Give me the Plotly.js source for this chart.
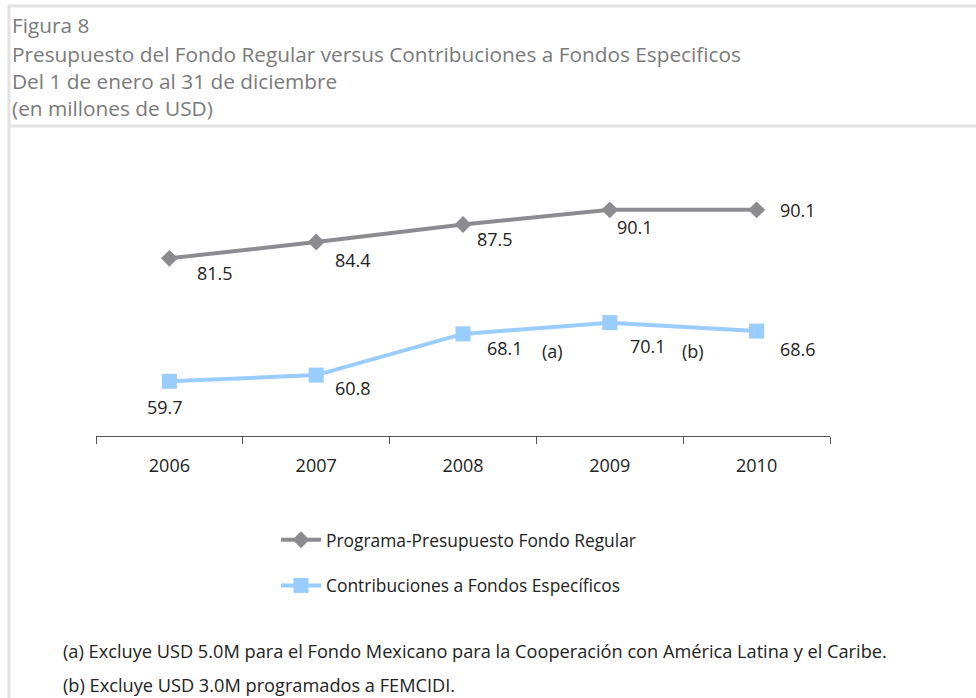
<!DOCTYPE html>
<html>
<head>
<meta charset="utf-8">
<script src="https://cdn.plot.ly/plotly-3.0.1.min.js"></script>
<style>
  body { margin: 0; background: #fff; }
  #chart { width: 976px; height: 698px; }
</style>
</head>
<body>
<div id="chart"></div>
<script>
var years = ['2006', '2007', '2008', '2009', '2010'];
var fondoRegular = [81.5, 84.4, 87.5, 90.1, 90.1];
var fondosEspecificos = [59.7, 60.8, 68.1, 70.1, 68.6];
var seriesNames = ['Programa-Presupuesto Fondo Regular', 'Contribuciones a Fondos Específicos'];
var notes = [null, null, '(a)', '(b)', null];

var titleLines = [
  'Figura 8',
  'Presupuesto del Fondo Regular versus Contribuciones a Fondos Especificos',
  'Del 1 de enero al 31 de diciembre',
  '(en millones de USD)'
];
var footnotes = [
  '(a) Excluye USD 5.0M para el Fondo Mexicano para la Cooperación con América Latina y el Caribe.',
  '(b) Excluye USD 3.0M programados a FEMCIDI.'
];

var FONT = '"Open Sans", sans-serif';

// plot area in pixels
var L = 96, R = 830, T = 154, B = 436;
function px(x) { return (x - L) / (R - L); }
function py(y) { return (B - y) / (B - T); }

// label offsets (pixels) for each point
var grayShift = [[26, -15], [17, -18], [12, -14], [5, -17], [21, 0]];
var blueShift = [[-24, -26], [17, -13], [22, -14], [18, -23], [21, -18]];
var noteShift = [null, null, [77, -17], [70, -28], null];

var data = [{
  x: years,
  y: fondoRegular,
  name: seriesNames[0],
  type: 'scatter',
  mode: 'lines+markers',
  line: {color: '#8c8c90', width: 4},
  marker: {symbol: 'diamond', size: 13, color: '#8c8c90'},
  legendgroup: 'a'
}, {
  x: years,
  y: fondosEspecificos,
  name: seriesNames[1],
  type: 'scatter',
  mode: 'lines+markers',
  line: {color: '#99ccff', width: 4},
  marker: {symbol: 'square', size: 15, color: '#99ccff'},
  legendgroup: 'b'
}];

var annotations = [];
years.forEach(function(yr, i){
  annotations.push({
    x: i, y: fondoRegular[i], xref: 'x', yref: 'y',
    text: fondoRegular[i].toFixed(1), showarrow: false,
    xanchor: 'left', yanchor: 'middle',
    xshift: grayShift[i][0], yshift: grayShift[i][1],
    font: {family: FONT, size: 18, color: '#222'}
  });
  annotations.push({
    x: i, y: fondosEspecificos[i], xref: 'x', yref: 'y',
    text: fondosEspecificos[i].toFixed(1), showarrow: false,
    xanchor: 'left', yanchor: 'middle',
    xshift: blueShift[i][0], yshift: blueShift[i][1],
    font: {family: FONT, size: 18, color: '#222'}
  });
  if (notes[i]) {
    annotations.push({
      x: i, y: fondosEspecificos[i], xref: 'x', yref: 'y',
      text: notes[i], showarrow: false,
      xanchor: 'left', yanchor: 'middle',
      xshift: noteShift[i][0], yshift: noteShift[i][1],
      font: {family: FONT, size: 18, color: '#222'}
    });
  }
});

var titleY = [25, 54, 81, 108];
titleLines.forEach(function(t, i){
  annotations.push({
    xref: 'paper', yref: 'paper', x: px(10), y: py(titleY[i]),
    xanchor: 'left', yanchor: 'middle', showarrow: false,
    text: t, font: {family: FONT, size: 20.8, color: '#7a7a7a'}
  });
});
var footY = [651, 685];
footnotes.forEach(function(t, i){
  annotations.push({
    xref: 'paper', yref: 'paper', x: px(61), y: py(footY[i]),
    xanchor: 'left', yanchor: 'middle', showarrow: false,
    text: t, font: {family: FONT, size: 18.2, color: '#222'}
  });
});

var borderColor = '#e2e2e2';
var shapes = [
  {type: 'line', xref: 'paper', yref: 'paper', x0: px(8), x1: px(976), y0: py(6), y1: py(6),
   line: {color: borderColor, width: 3}},
  {type: 'line', xref: 'paper', yref: 'paper', x0: px(8), x1: px(976), y0: py(126), y1: py(126),
   line: {color: borderColor, width: 3}},
  {type: 'line', xref: 'paper', yref: 'paper', x0: px(9), x1: px(9), y0: py(5), y1: py(698),
   line: {color: borderColor, width: 3}}
];

var layout = {
  width: 976,
  height: 698,
  margin: {l: L, r: 976 - R, t: T, b: 698 - B},
  paper_bgcolor: '#fff',
  plot_bgcolor: '#fff',
  font: {family: FONT, size: 18, color: '#222'},
  showlegend: true,
  legend: {
    x: px(276), y: py(522), xanchor: 'left', yanchor: 'top',
    traceorder: 'grouped', tracegroupgap: 20,
    font: {family: FONT, size: 17.4, color: '#222'},
    itemwidth: 40
  },
  xaxis: {
    type: 'category',
    range: [-0.5, 4.5],
    showline: true, linecolor: '#555', linewidth: 1,
    ticks: 'outside', tickson: 'boundaries', ticklen: 7, tickcolor: '#555',
    showgrid: false, zeroline: false,
    tickfont: {family: FONT, size: 18, color: '#222'},
    ticklabelstandoff: 13
  },
  yaxis: {
    range: [50, 100],
    showline: false, showticklabels: false, ticks: '',
    showgrid: false, zeroline: false
  },
  annotations: annotations,
  shapes: shapes
};

Plotly.newPlot('chart', data, layout, {displayModeBar: false, staticPlot: true});
</script>
</body>
</html>
